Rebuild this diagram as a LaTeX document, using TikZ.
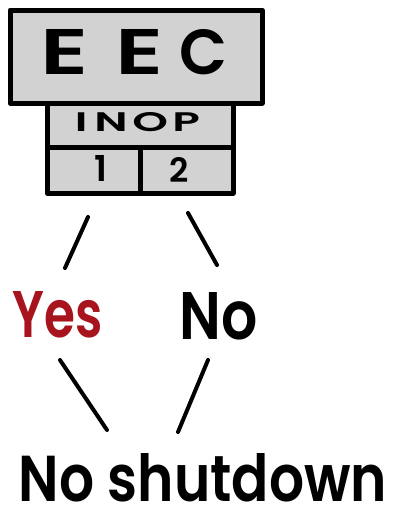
\documentclass[tikz,border=0pt]{standalone}
\usepackage{fontspec}
\usepackage{graphicx}
\setmainfont{Poppins}[BoldFont={* SemiBold}]
\begin{document}
\begin{tikzpicture}[x=1pt,y=-1pt,
  cell/.style={draw=black, fill=boxgray, line width=5pt, inner sep=0pt, line join=round},
  stroke/.style={line width=4pt, line cap=round},
  hand/.style={inner sep=0pt, font=\bfseries}]
\definecolor{boxgray}{HTML}{D2D2D2}
\definecolor{yesred}{HTML}{A8141E}
\useasboundingbox (0,0) rectangle (397,512);
% lower block cells
\node[cell, minimum width=186pt, minimum height=44pt] (inop) at (140,125) {};
\node[cell, minimum width=93pt, minimum height=46pt] (one) at (93.5,170) {};
\node[cell, minimum width=93pt, minimum height=46pt] (two) at (186.5,170) {};
% top block
\node[cell, minimum width=252pt, minimum height=93pt] (eec) at (136,56.5) {};
% texts
\node[hand] (eect) at (134,52.5) {\resizebox{48pt}{45pt}{E}\hspace{27pt}\resizebox{48pt}{45pt}{E}\hspace{15pt}\resizebox{48pt}{45pt}{C}};
\node[hand] (inopt) at (137.5,122.5) {\resizebox{125pt}{19pt}{I\hspace{0.15em}N\hspace{0.1em}O\hspace{0.1em}P}};
\node[hand] (onet) at (101,168.5) {\resizebox{!}{26pt}{1}};
\node[hand] (twot) at (179.5,169.5) {\resizebox{!}{25pt}{2}};
\node[hand, text=yesred] (yes) at (58,315) {\resizebox{90pt}{46pt}{Yes}};
\node[hand] (no) at (219,316.5) {\resizebox{78pt}{47pt}{No}};
\node[hand, font=\fontsize{50}{50}\selectfont\bfseries] (shut) at (203,478) {\resizebox{368pt}{48pt}{No shutdown}};
% connector strokes
\coordinate (a1) at (88,217); \coordinate (a2) at (65,268);
\coordinate (b1) at (188,213); \coordinate (b2) at (217,265);
\coordinate (c1) at (60,360); \coordinate (c2) at (107,430);
\coordinate (d1) at (208,360); \coordinate (d2) at (178,432);
\draw[stroke] (a1) -- (a2);
\draw[stroke] (b1) -- (b2);
\draw[stroke] (c1) -- (c2);
\draw[stroke] (d1) -- (d2);
\end{tikzpicture}
\end{document}
